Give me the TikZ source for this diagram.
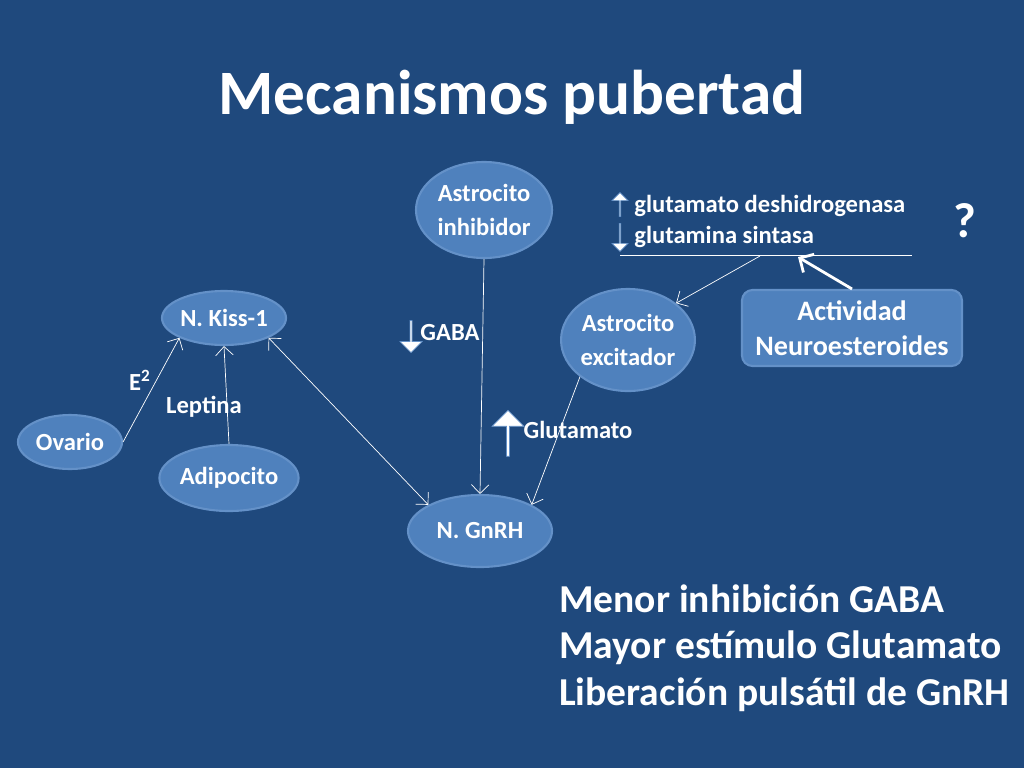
\documentclass[tikz,border=0pt]{standalone}
\usepackage{fontspec}
\setmainfont{Carlito}
\usetikzlibrary{shapes.arrows,shapes.geometric,arrows.meta}
\definecolor{bg}{RGB}{31,73,125}
\definecolor{cellfill}{RGB}{79,129,189}
\definecolor{celledge}{RGB}{100,145,200}
\tikzset{
	cell/.style={ellipse,fill=cellfill,draw=celledge,line width=1.2pt,text=white,font=\bfseries\fontsize{14}{19}\selectfont,align=center,inner sep=0pt},
	lbl/.style={text=white,font=\bfseries\fontsize{14}{17}\selectfont,inner sep=0pt},
	link/.style={draw=white,thin,-{Straight Barb[length=5pt]}},
	blockup/.style={single arrow,fill=white,draw=celledge,shape border rotate=90,single arrow head extend=2pt,inner sep=0pt,minimum height=#1},
	blockdown/.style={single arrow,fill=white,draw=celledge,shape border rotate=270,single arrow head extend=2pt,inner sep=0pt,minimum height=#1}
}
\begin{document}
\begin{tikzpicture}[x=0.02cm,y=-0.02cm]
	% background
	\fill[bg] (0,0) rectangle (1024,768);
	\useasboundingbox (0,0) rectangle (1024,768);

	% title
	\node[text=white,font=\bfseries\fontsize{36}{40}\selectfont] (title) at (512,97) {Mecanismos pubertad};

	% cells
	\node[cell,minimum width=136*0.02cm,minimum height=96*0.02cm] (inhib) at (484,210) {Astrocito\\inhibidor};
	\node[cell,minimum width=124*0.02cm,minimum height=54*0.02cm] (kiss) at (224,318) {N. Kiss-1};
	\node[cell,minimum width=104*0.02cm,minimum height=54*0.02cm] (ovario) at (70,442) {Ovario};
	\node[cell,minimum width=124*0.02cm,minimum height=66*0.02cm] (adipo) at (229,478) {Adipocito};
	\node[cell,minimum width=144*0.02cm,minimum height=72*0.02cm] (gnrh) at (480,531) {N. GnRH};
	\node[cell,minimum width=126*0.02cm,minimum height=102*0.02cm] (excit) at (628,340) {Astrocito\\excitador};
	\node[rectangle,rounded corners=6pt,fill=cellfill,draw=celledge,line width=1.2pt,text=white,align=center,
		font=\bfseries\fontsize{16}{20}\selectfont,minimum width=220*0.02cm,minimum height=76*0.02cm] (neuro) at (852,328) {Actividad\\Neuroesteroides};

	% enzymes
	\node[lbl,anchor=west] (gdh) at (634,206) {glutamato deshidrogenasa};
	\node[lbl,anchor=west] (gs) at (634,237) {glutamina sintasa};
	\node[blockup=24*0.02cm,minimum width=16*0.02cm] (upgdh) at (620,205) {};
	\node[blockdown=28*0.02cm,minimum width=16*0.02cm] (downgs) at (620,237) {};
	\coordinate (barL) at (620,255);
	\coordinate (barR) at (912,255);
	\coordinate (barA) at (760,256);
	\coordinate (barB) at (798,257);
	\draw[white,thin] (barL) -- (barR);
	\node[text=white,font=\bfseries\fontsize{28}{30}\selectfont] (quest) at (965,221) {?};

	% labels
	\node[lbl] (e2) at (140,380) {E\textsuperscript{2}};
	\node[lbl] (leptina) at (204,407) {Leptina};
	\node[lbl] (gaba) at (450,333) {GABA};
	\node[blockdown=32*0.02cm,minimum width=22*0.02cm] (downgaba) at (411,336) {};
	\node[lbl] (gluta) at (578,430) {Glutamato};
	\node[blockup=46*0.02cm,minimum width=32*0.02cm] (upgluta) at (508,434) {};

	% connectors
	\draw[link] (ovario.east) -- (kiss.south west);
	\draw[link] (adipo.north) -- (kiss.south);
	\draw[link,{Straight Barb[length=5pt]}-{Straight Barb[length=5pt]}] (kiss.south east) -- (gnrh.north west);
	\draw[link] (inhib.south) -- (gnrh.north);
	\draw[link] (excit.south west) -- (gnrh.north east);
	\draw[link] (barA) -- (excit.north east);
	\draw[white,line width=1.6pt,-{Straight Barb[length=6pt]}] (neuro.north) -- (barB);

	% conclusions
	\node[text=white,anchor=west,align=left,font=\bfseries\fontsize{22.5}{26.5}\selectfont] (concl) at (553,648)
		{Menor inhibición GABA\\Mayor estímulo Glutamato\\Liberación pulsátil de GnRH};
\end{tikzpicture}
\end{document}
